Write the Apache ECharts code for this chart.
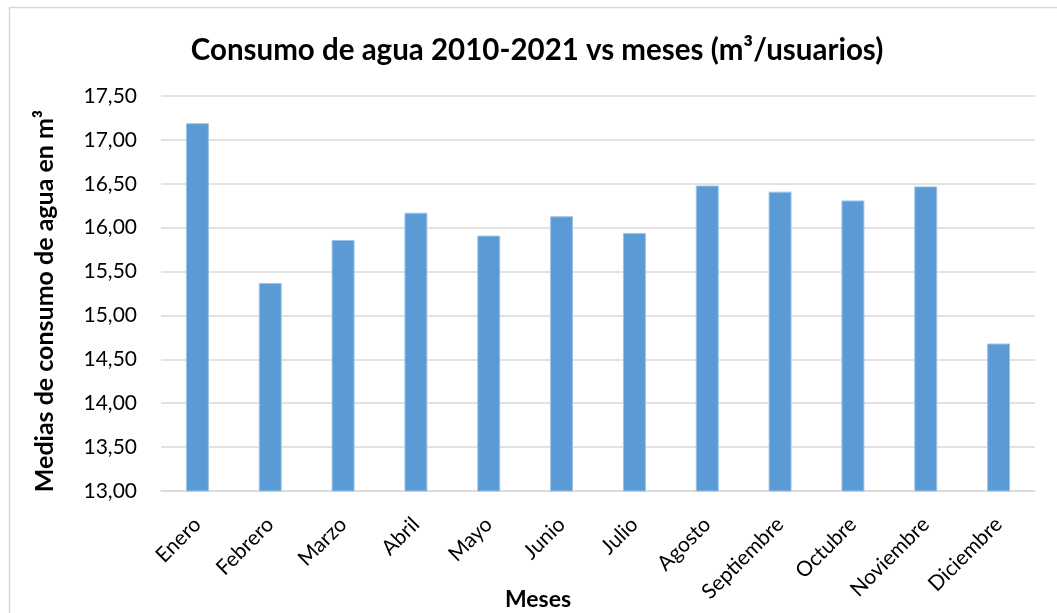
<!DOCTYPE html>
<html>
<head>
<meta charset="utf-8">
<title>Consumo de agua</title>
<script src="https://cdn.jsdelivr.net/npm/echarts@6/dist/echarts.min.js"></script>
<style>
  html, body { margin: 0; padding: 0; background: #ffffff; overflow: hidden; }
  #chart { width: 1057px; height: 613px; }
</style>
</head>
<body>
<div id="chart"></div>
<script>
// Monthly mean water consumption, 2010-2021 (m³ per user)
const months = ['Enero', 'Febrero', 'Marzo', 'Abril', 'Mayo', 'Junio',
                'Julio', 'Agosto', 'Septiembre', 'Octubre', 'Noviembre', 'Diciembre'];
const consumo = [17.19, 15.37, 15.86, 16.17, 15.91, 16.13,
                 15.94, 16.48, 16.41, 16.31, 16.47, 14.68];
const yMin = 13.0;
const yMax = 17.5;
const yStep = 0.5;

const chartTitle = 'Consumo de agua 2010-2021 vs meses (m³/usuarios)';
const xTitle = 'Meses';
const yTitle = 'Medias de consumo de agua en m³';

const FONT = 'Lato, "Open Sans", sans-serif';
const chart = echarts.init(document.getElementById('chart'), null, { renderer: 'canvas' });

chart.setOption({
  backgroundColor: '#ffffff',
  animation: false,
  graphic: [
    {
      type: 'rect',
      shape: { x: 9.5, y: 7.5, width: 1060, height: 620 },
      style: { fill: null, stroke: '#d9d9d9', lineWidth: 1.5 },
      silent: true
    },
    {
      type: 'text',
      x: 537, y: 50,
      style: {
        text: chartTitle, fill: '#000000',
        font: 'bold 29.5px ' + FONT,
        align: 'center', verticalAlign: 'middle'
      }
    },
    {
      type: 'text',
      x: 538, y: 600,
      style: {
        text: xTitle, fill: '#000000',
        font: 'bold 23px ' + FONT,
        align: 'center', verticalAlign: 'middle'
      }
    },
    {
      type: 'text',
      x: 45, y: 301,
      rotation: Math.PI / 2,
      style: {
        text: yTitle, fill: '#000000',
        font: 'bold 25px ' + FONT,
        align: 'center', verticalAlign: 'middle'
      }
    }
  ],
  grid: { left: 161, right: 22, top: 96, bottom: 122, containLabel: false, outerBoundsMode: 'none' },
  xAxis: {
    type: 'category',
    data: months,
    axisLine: { show: true, lineStyle: { color: '#d9d9d9', width: 1.5 } },
    axisTick: { show: false },
    axisLabel: {
      rotate: 45,
      margin: 30,
      interval: 0,
      fontFamily: FONT,
      fontSize: 21,
      color: '#000000'
    }
  },
  yAxis: {
    type: 'value',
    min: yMin,
    max: yMax,
    interval: yStep,
    axisLine: { show: false },
    axisTick: { show: false },
    splitLine: { show: true, lineStyle: { color: '#d9d9d9', width: 1.5 } },
    axisLabel: {
      margin: 24,
      fontFamily: FONT,
      fontSize: 21,
      color: '#000000',
      formatter: v => v.toFixed(2).replace('.', ',')
    }
  },
  series: [{
    type: 'bar',
    data: consumo,
    barWidth: '31.5%',
    itemStyle: { color: '#5b9bd5', borderColor: '#9dc3e6', borderWidth: 1 }
  }]
});
</script>
</body>
</html>
